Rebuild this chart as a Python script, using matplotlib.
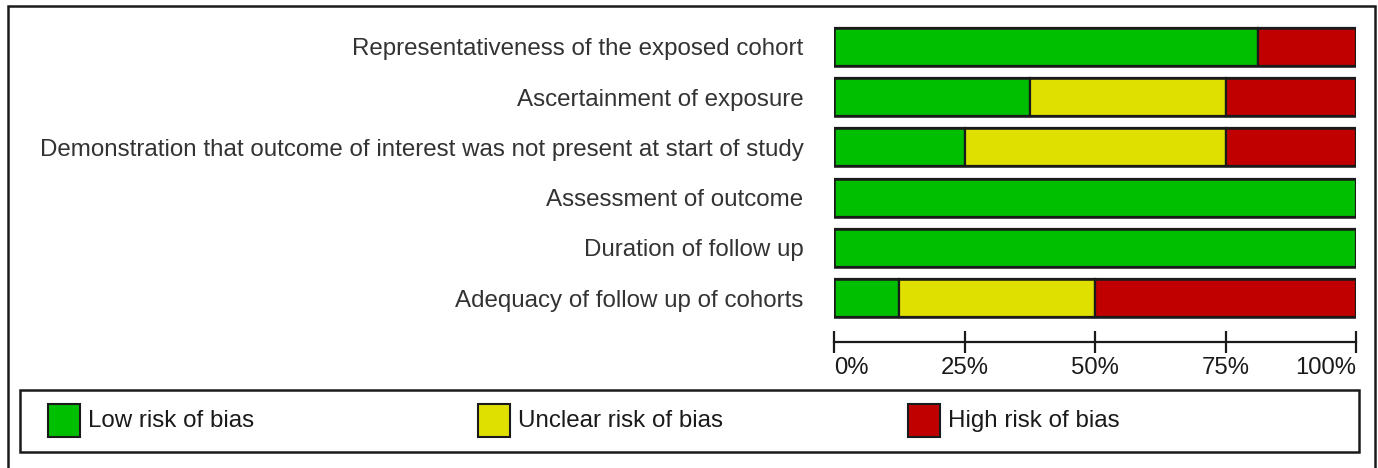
import matplotlib
matplotlib.use("Agg")
import matplotlib.pyplot as plt
from matplotlib.patches import Rectangle
import numpy as np

plt.rcParams['font.family'] = ['Liberation Sans', 'DejaVu Sans']

categories = [
    "Representativeness of the exposed cohort",
    "Ascertainment of exposure",
    "Demonstration that outcome of interest was not present at start of study",
    "Assessment of outcome",
    "Duration of follow up",
    "Adequacy of follow up of cohorts",
]
low = [81.25, 37.5, 25.0, 100.0, 100.0, 12.5]
unclear = [0.0, 37.5, 50.0, 0.0, 0.0, 37.5]
high = [18.75, 25.0, 25.0, 0.0, 0.0, 50.0]
series_names = ["Low risk of bias", "Unclear risk of bias", "High risk of bias"]
colors = ["#00BF00", "#E0E000", "#C00000"]
tick_vals = [0, 25, 50, 75, 100]
tick_labels = ["0%", "25%", "50%", "75%", "100%"]

W, H = 1378, 468
fig = plt.figure(figsize=(W / 100, H / 100), dpi=100)

def fx(px):
    return px / W

def fy(py):
    return 1 - py / H

FS = 17.4

# bars axes: left 834, right 1356, top 22, bottom 342 (pixels)
ax = fig.add_axes([fx(834), fy(342), fx(1356) - fx(834), fy(22) - fy(342)])
n = len(categories)
y = np.arange(n)
left = np.zeros(n)
for vals, c in zip([low, unclear, high], colors):
    vals = np.array(vals)
    mask = vals > 0
    ax.barh(y[mask], vals[mask], left=left[mask], height=0.755, color=c,
            edgecolor="#1a1a1a", linewidth=1.6)
    left = left + vals
# outline around each whole bar
ax.barh(y, [100] * n, height=0.755, facecolor="none", edgecolor="#1a1a1a", linewidth=1.8)

ax.set_xlim(0, 100)
ax.set_ylim(5 + (342 - 298) / 50.3, -(47 - 22) / 50.3)
for s in ["top", "right", "left"]:
    ax.spines[s].set_visible(False)
ax.spines["bottom"].set_linewidth(1.6)
ax.spines["bottom"].set_color("#1a1a1a")
ax.set_xticks(tick_vals)
ax.set_xticklabels(tick_labels, fontsize=17.2, color="#1a1a1a")
ax.tick_params(axis="x", direction="inout", length=16, width=1.6, pad=3, colors="#1a1a1a")
labs = ax.get_xticklabels()
labs[0].set_horizontalalignment("left")
labs[-1].set_horizontalalignment("right")
ax.set_yticks(y)
ax.set_yticklabels(categories, fontsize=FS, color="#333333")
ax.tick_params(axis="y", length=0, pad=22)
ax.patch.set_visible(False)

# outer frame
fig.add_artist(Rectangle((fx(8), fy(480)), fx(1375) - fx(8), fy(6) - fy(480),
                         transform=fig.transFigure, fill=False,
                         edgecolor="#1a1a1a", linewidth=1.8, clip_on=False))
# legend box
fig.add_artist(Rectangle((fx(20), fy(452)), fx(1359) - fx(20), fy(390) - fy(452),
                         transform=fig.transFigure, fill=False,
                         edgecolor="#1a1a1a", linewidth=1.8))
leg_x = [48, 478, 908]
for x0, name, c in zip(leg_x, series_names, colors):
    fig.add_artist(Rectangle((fx(x0), fy(437)), fx(32), fy(404) - fy(437),
                             transform=fig.transFigure, facecolor=c,
                             edgecolor="#1a1a1a", linewidth=1.5))
    fig.text(fx(x0 + 40), fy(421), name, fontsize=FS, color="#1a1a1a",
             ha="left", va="center")

fig.savefig("out.png", dpi=100, facecolor="white")
